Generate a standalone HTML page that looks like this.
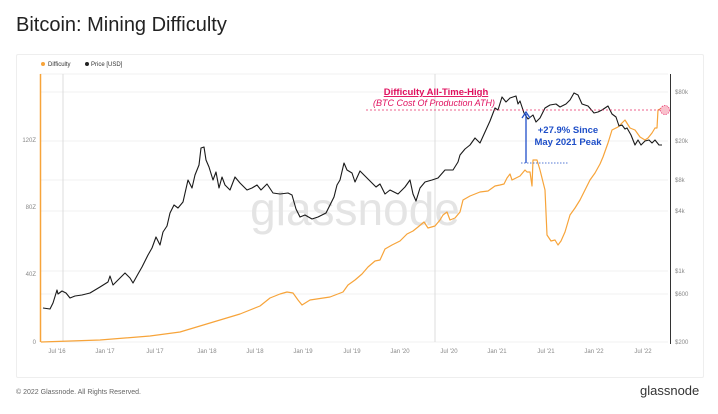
<!DOCTYPE html><html><head><meta charset="utf-8"><style>
body{margin:0;width:718px;height:414px;background:#fff;font-family:"Liberation Sans",sans-serif;overflow:hidden;position:relative}
</style></head><body>
<div style="position:absolute;left:16px;top:14px;font-size:20px;color:#222">Bitcoin: Mining Difficulty</div>
<div style="position:absolute;left:16px;top:54px;width:686px;height:322px;border:1px solid #eee;border-radius:2px"></div>
<svg width="718" height="414" style="position:absolute;left:0;top:0" font-family="Liberation Sans, sans-serif">
<g stroke="#f0f0f0" stroke-width="1">
<line x1="40" y1="92" x2="668" y2="92"/><line x1="40" y1="141" x2="668" y2="141"/><line x1="40" y1="180" x2="668" y2="180"/><line x1="40" y1="211" x2="668" y2="211"/><line x1="40" y1="271" x2="668" y2="271"/><line x1="40" y1="294" x2="668" y2="294"/><line x1="40" y1="342" x2="668" y2="342"/>
<line x1="40" y1="74" x2="668" y2="74"/>
</g>
<line x1="63" y1="74" x2="63" y2="342" stroke="#ddd"/><line x1="435" y1="74" x2="435" y2="342" stroke="#ddd"/>
<line x1="40.5" y1="74" x2="40.5" y2="342" stroke="#f7a43a" stroke-width="1.5"/>
<line x1="670.5" y1="74" x2="670.5" y2="344" stroke="#333" stroke-width="1"/>
<text x="355" y="225" font-size="46" fill="#e4e4e4" text-anchor="middle">glassnode</text>
<g font-size="6" fill="#888">
<text x="36" y="344" text-anchor="end">0</text><text x="36" y="276" text-anchor="end">40Z</text><text x="36" y="209" text-anchor="end">80Z</text><text x="36" y="142" text-anchor="end">120Z</text>
<text x="675" y="94">$80k</text><text x="675" y="143">$20k</text><text x="675" y="182">$8k</text><text x="675" y="213">$4k</text><text x="675" y="273">$1k</text><text x="675" y="296">$600</text><text x="675" y="344">$200</text>
<g text-anchor="middle"><text x="57" y="353">Jul '16</text><text x="105" y="353">Jan '17</text><text x="155" y="353">Jul '17</text><text x="207" y="353">Jan '18</text><text x="255" y="353">Jul '18</text><text x="303" y="353">Jan '19</text><text x="352" y="353">Jul '19</text><text x="400" y="353">Jan '20</text><text x="449" y="353">Jul '20</text><text x="497" y="353">Jan '21</text><text x="546" y="353">Jul '21</text><text x="594" y="353">Jan '22</text><text x="643" y="353">Jul '22</text></g>
</g>
<circle cx="43" cy="64" r="2" fill="#f7a43a"/><text x="48" y="66" font-size="6" fill="#333">Difficulty</text>
<circle cx="87" cy="64" r="2" fill="#222"/><text x="91" y="66" font-size="6" fill="#333">Price [USD]</text>
<polyline fill="none" stroke="#f7a43a" stroke-width="1.2" stroke-linejoin="round" points="41,342 100,340 150,336 180,332 200,326 220,320 240,314 260,306 270,298 280,294 287,292 293,293 298,300 302,305 310,300 330,297 343,292 348,285 355,280 362,274 368,267 375,261 380,260 385,249 392,245 400,241 407,234 413,231 418,227 424,222 428,228 435,226 440,220 443,215 447,212 450,220 455,218 460,212 463,200 470,196 480,192 488,191 495,186 500,185 504,184 507,178 510,174 512,180 520,176 525,170 527,172 530,172 532,186 533,160 537,160 540,170 545,190 547,235 551,241 555,240 558,245 561,241 565,232 570,215 575,208 580,200 585,190 590,180 595,173 600,164 603,157 608,143 612,130 618,127 625,120 630,128 635,130 640,137 645,140 648,138 652,133 655,128 657,128 658,110 664,107"/>
<polyline fill="none" stroke="#1a1a1a" stroke-width="1.1" stroke-linejoin="round" points="43,308 50,309 53,303 57,290 58,294 62,291 66,293 70,298 75,296 82,295 90,293 100,287 108,282 110,276 113,285 118,280 125,273 130,278 133,283 138,274 142,267 148,255 152,248 156,237 160,245 163,232 167,226 170,213 174,205 178,208 183,202 188,180 192,188 195,175 199,165 201,148 204,147 206,160 209,167 213,180 216,172 219,188 222,177 225,185 230,190 235,177 240,183 247,190 252,188 257,185 261,190 267,184 273,193 280,194 288,193 292,195 296,209 300,217 305,215 312,219 318,217 326,213 330,205 334,197 337,185 340,180 344,163 347,170 352,173 355,182 360,171 368,179 376,187 380,184 385,194 390,190 398,194 405,187 410,180 413,194 416,201 420,188 425,182 432,180 438,178 445,170 450,170 453,170 458,162 460,155 465,149 470,145 475,138 480,143 485,132 490,121 495,108 498,110 502,97 506,102 510,98 516,96 518,104 520,101 524,113 528,119 533,115 536,122 540,118 545,108 550,105 556,104 560,107 566,104 570,100 574,93 578,95 582,104 588,106 594,113 598,112 602,110 608,106 612,114 616,117 619,126 622,125 625,129 627,128 631,135 635,145 638,140 641,145 645,141 649,140 652,143 655,140 659,145 662,145"/>
<line x1="366" y1="110" x2="665" y2="110" stroke="#e8306a" stroke-width="0.8" stroke-dasharray="2,2"/>
<circle cx="665" cy="110" r="4.5" fill="#f9c0cc" stroke="#e8306a" stroke-width="0.7" stroke-dasharray="1.5,1"/>
<text x="436" y="95" font-size="9.5" font-weight="bold" fill="#e0115f" text-anchor="middle" text-decoration="underline">Difficulty All-Time-High</text>
<text x="434" y="106" font-size="9" font-style="italic" fill="#e0115f" text-anchor="middle">(BTC Cost Of Production ATH)</text>
<line x1="526" y1="163" x2="526" y2="114" stroke="#1f4fc8" stroke-width="1.3"/>
<polyline points="522,118 526,112 530,118" fill="none" stroke="#1f4fc8" stroke-width="1.3"/>
<line x1="521" y1="163" x2="569" y2="163" stroke="#1f4fc8" stroke-width="0.8" stroke-dasharray="1.5,1.5"/>
<text x="568" y="133" font-size="9.5" font-weight="bold" fill="#1f4fc8" text-anchor="middle">+27.9% Since</text>
<text x="568" y="145" font-size="9.5" font-weight="bold" fill="#1f4fc8" text-anchor="middle">May 2021 Peak</text>
<text x="16" y="394" font-size="7" fill="#666">© 2022 Glassnode. All Rights Reserved.</text>
<text x="640" y="395" font-size="13" fill="#333">glassnode</text>
</svg>
</body></html>
